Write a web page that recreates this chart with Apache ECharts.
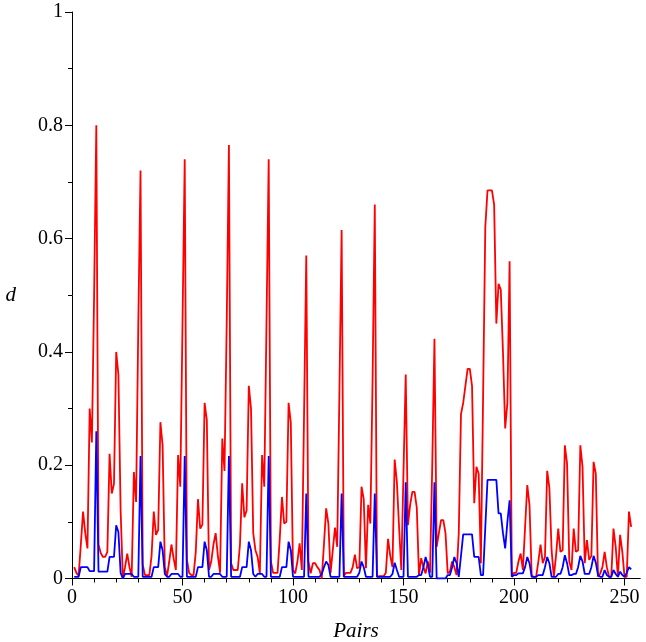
<!DOCTYPE html>
<html><head><meta charset="utf-8">
<script src="https://cdn.jsdelivr.net/npm/echarts@6/dist/echarts.min.js"></script>
<style>html,body{margin:0;padding:0;background:#fff}#c{width:646px;height:642px}</style>
</head><body><div id="c"></div>
<script>
// first pair index of the series (x value of the first point)
const firstPair = 1;

// red curve (pairs 1..253)
const redD = [
0.020,0.010,0.005,0.060,0.118,0.080,0.053,0.300,0.240,0.500,
0.800,0.060,0.045,0.038,0.038,0.047,0.220,0.150,0.167,0.400,
0.360,0.120,0.000,0.020,0.044,0.020,0.003,0.188,0.135,0.450,
0.720,0.025,0.006,0.006,0.006,0.040,0.118,0.077,0.086,0.276,
0.235,0.020,0.004,0.030,0.060,0.035,0.015,0.218,0.162,0.450,
0.740,0.033,0.010,0.006,0.006,0.047,0.140,0.088,0.095,0.310,
0.280,0.015,0.030,0.060,0.080,0.040,0.010,0.247,0.190,0.450,
0.765,0.027,0.015,0.015,0.015,0.060,0.168,0.108,0.120,0.340,
0.300,0.080,0.050,0.038,0.009,0.218,0.162,0.450,0.740,0.030,
0.010,0.010,0.010,0.070,0.144,0.097,0.100,0.310,0.275,0.015,
0.009,0.030,0.062,0.015,0.290,0.570,0.030,0.009,0.027,0.027,
0.020,0.015,0.000,0.060,0.124,0.097,0.010,0.050,0.090,0.056,
0.330,0.615,0.005,0.010,0.010,0.010,0.020,0.042,0.018,0.020,
0.162,0.140,0.018,0.130,0.097,0.350,0.660,0.003,0.004,0.004,
0.004,0.010,0.070,0.040,0.020,0.210,0.170,0.090,0.015,0.190,
0.360,0.094,0.130,0.153,0.153,0.125,0.006,0.036,0.020,0.009,
0.030,0.010,0.200,0.423,0.056,0.080,0.103,0.103,0.080,0.009,
0.012,0.030,0.020,0.006,0.080,0.290,0.310,0.340,0.370,0.370,
0.340,0.133,0.197,0.185,0.027,0.320,0.620,0.685,0.685,0.685,
0.660,0.450,0.520,0.510,0.400,0.265,0.310,0.560,0.005,0.010,
0.010,0.030,0.044,0.015,0.090,0.165,0.130,0.005,0.003,0.003,
0.030,0.060,0.027,0.038,0.190,0.160,0.050,0.003,0.040,0.088,
0.047,0.050,0.235,0.203,0.030,0.015,0.088,0.047,0.050,0.235,
0.197,0.027,0.068,0.033,0.040,0.206,0.185,0.003,0.009,0.020,
0.047,0.020,0.003,0.003,0.088,0.056,0.003,0.077,0.047,0.003,
0.003,0.118,0.091
];

// blue curve (pairs 1..253)
const blueD = [
0.003,0.003,0.003,0.020,0.020,0.020,0.020,0.013,0.013,0.013,
0.260,0.012,0.012,0.012,0.012,0.012,0.038,0.038,0.038,0.094,
0.082,0.010,0.000,0.008,0.008,0.008,0.008,0.003,0.003,0.003,
0.216,0.003,0.003,0.003,0.003,0.003,0.020,0.020,0.020,0.065,
0.050,0.008,0.003,0.003,0.008,0.008,0.008,0.008,0.003,0.003,
0.216,0.003,0.003,0.003,0.003,0.003,0.020,0.020,0.020,0.065,
0.050,0.003,0.003,0.008,0.008,0.008,0.008,0.003,0.003,0.003,
0.216,0.003,0.003,0.003,0.003,0.003,0.020,0.020,0.020,0.065,
0.050,0.008,0.003,0.008,0.008,0.008,0.003,0.003,0.216,0.003,
0.003,0.003,0.003,0.003,0.020,0.020,0.020,0.065,0.050,0.003,
0.003,0.003,0.003,0.003,0.003,0.150,0.003,0.003,0.003,0.003,
0.003,0.003,0.008,0.020,0.030,0.024,0.003,0.003,0.003,0.003,
0.003,0.150,0.003,0.003,0.003,0.003,0.003,0.003,0.003,0.010,
0.030,0.020,0.003,0.003,0.003,0.003,0.150,0.003,0.003,0.003,
0.003,0.003,0.003,0.003,0.008,0.028,0.015,0.003,0.003,0.003,
0.170,0.003,0.003,0.003,0.003,0.003,0.006,0.006,0.020,0.038,
0.024,0.003,0.003,0.170,0.000,0.000,0.000,0.000,0.000,0.006,
0.006,0.020,0.038,0.027,0.003,0.040,0.078,0.078,0.078,0.078,
0.078,0.038,0.038,0.038,0.006,0.006,0.090,0.174,0.174,0.174,
0.174,0.174,0.115,0.115,0.080,0.053,0.100,0.138,0.003,0.006,
0.006,0.009,0.009,0.009,0.020,0.038,0.027,0.003,0.003,0.003,
0.006,0.006,0.006,0.020,0.038,0.027,0.003,0.003,0.003,0.008,
0.008,0.020,0.041,0.027,0.006,0.006,0.008,0.008,0.020,0.040,
0.030,0.008,0.008,0.008,0.020,0.040,0.028,0.006,0.003,0.003,
0.015,0.006,0.003,0.003,0.015,0.008,0.003,0.012,0.006,0.003,
0.010,0.020,0.016
];

const xMajorTicks = [0, 50, 100, 150, 200, 250];
const xMinorTicks = [0,10,20,30,40,50,60,70,80,90,100,110,120,130,140,150,160,170,180,190,200,210,220,230,240,250];
const xMax = 257;

const serif = 'Liberation Serif, Times New Roman, serif';
const toPts = arr => arr.map((v, i) => [firstPair + i, v]);

const chart = echarts.init(document.getElementById('c'), null, {renderer: 'canvas'});
chart.setOption({
  animation: false,
  backgroundColor: '#fff',
  grid: {left: 72, right: 6, top: 12, bottom: 63.5, containLabel: false, outerBoundsMode: 'none'},
  xAxis: [
    {
      type: 'value', min: 0, max: xMax, position: 'bottom',
      axisLine: {show: true, onZero: false, lineStyle: {color: '#000', width: 1}},
      axisTick: {show: true, inside: false, length: 7, customValues: xMajorTicks, lineStyle: {color: '#000', width: 1}},
      axisLabel: {show: true, customValues: xMajorTicks, color: '#000', fontFamily: serif, fontSize: 20, margin: 9},
      splitLine: {show: false},
      name: 'Pairs', nameLocation: 'middle', nameGap: 42,
      nameTextStyle: {fontFamily: serif, fontStyle: 'italic', fontSize: 21, color: '#000'}
    },
    {
      type: 'value', min: 0, max: xMax, position: 'bottom', offset: 0,
      axisLine: {show: true, onZero: false, lineStyle: {color: '#000', width: 1}},
      axisTick: {show: true, inside: false, length: 4, customValues: xMinorTicks, lineStyle: {color: '#000', width: 1}},
      axisLabel: {show: false, customValues: xMinorTicks},
      splitLine: {show: false}
    }
  ],
  yAxis: {
    type: 'value', min: 0, max: 1, interval: 0.2,
    axisLine: {show: true, onZero: false, lineStyle: {color: '#000', width: 1}},
    axisTick: {show: true, inside: false, length: 7, lineStyle: {color: '#000', width: 1}},
    minorTick: {show: true, splitNumber: 2, length: 4, lineStyle: {color: '#000', width: 1}},
    axisLabel: {color: '#000', fontFamily: serif, fontSize: 20, margin: 9},
    splitLine: {show: false},
    minorSplitLine: {show: false},
    name: 'd', nameLocation: 'middle', nameRotate: 0, nameGap: 56,
    nameTextStyle: {fontFamily: serif, fontStyle: 'italic', fontSize: 21, color: '#000'}
  },
  series: [
    {type: 'line', xAxisIndex: 0, data: toPts(redD), showSymbol: false, symbol: 'none',
     lineStyle: {color: '#ff0000', width: 1.8}, itemStyle: {color: '#ff0000'}},
    {type: 'line', xAxisIndex: 0, data: toPts(blueD), showSymbol: false, symbol: 'none',
     lineStyle: {color: '#0000ff', width: 1.8}, itemStyle: {color: '#0000ff'}}
  ]
});
</script>
</body></html>
